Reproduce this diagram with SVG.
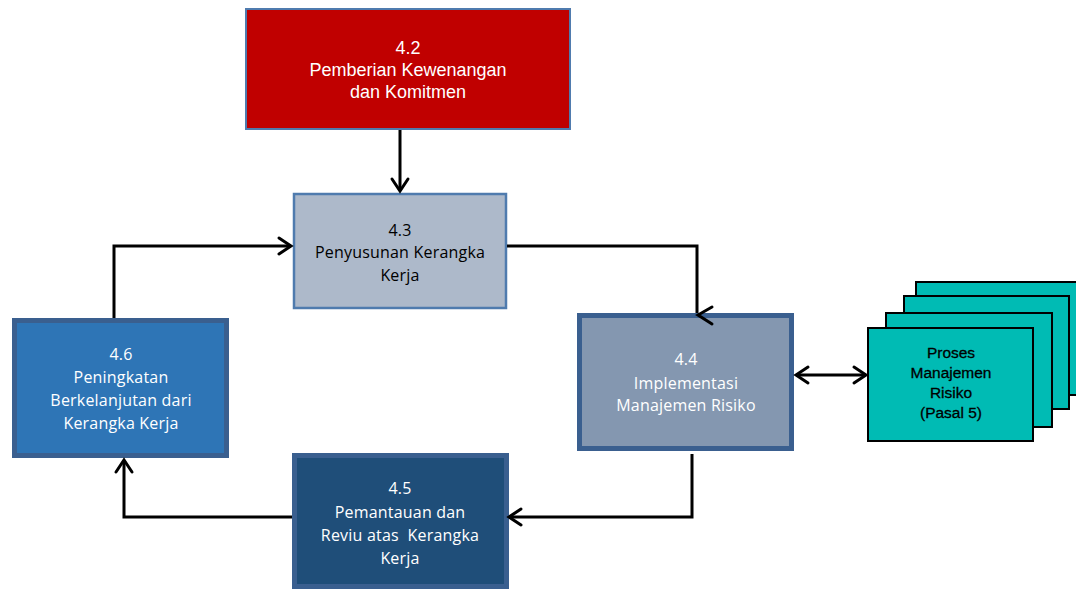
<svg xmlns="http://www.w3.org/2000/svg" width="1076" height="590" viewBox="0 0 1076 590">
<style>
.t{font-family:"Open Sans","Liberation Sans",sans-serif;font-size:16px;letter-spacing:0.2px;text-anchor:middle;white-space:pre}
.a{font-family:"Liberation Sans",Arial,sans-serif;text-anchor:middle}
.w{fill:#fff}
.k{fill:#000}
.ln{fill:none;stroke:#000;stroke-width:3}
.ah{fill:none;stroke:#000;stroke-width:3;stroke-linecap:round}
.teal{fill:#00BBB4;stroke:#000;stroke-width:2}
</style>
<rect width="1076" height="590" fill="#fff"/>
<g id="n42">
  <rect x="246" y="9" width="324" height="120" fill="#C00000" stroke="#4F7BAE" stroke-width="2"/>
  <text class="a w" font-size="18" x="408" y="54">4.2</text>
  <text class="a w" font-size="18" x="408" y="76">Pemberian Kewenangan</text>
  <text class="a w" font-size="18" x="408" y="98">dan Komitmen</text>
</g>
<g id="n43">
  <rect x="294" y="194" width="212" height="114" fill="#ADB9CA" stroke="#4F7BAE" stroke-width="2.5"/>
  <text class="t k" x="400" y="236">4.3</text>
  <text class="t k" x="400" y="258">Penyusunan Kerangka</text>
  <text class="t k" x="400" y="281">Kerja</text>
</g>
<g id="n44">
  <rect x="579.5" y="315.5" width="212" height="133" fill="#8497B0" stroke="#3A5F8F" stroke-width="5"/>
  <text class="t w" x="686" y="365">4.4</text>
  <text class="t w" x="686" y="389">Implementasi</text>
  <text class="t w" x="686" y="411">Manajemen Risiko</text>
</g>
<g id="n45">
  <rect x="294.5" y="455.5" width="212" height="131" fill="#1F4E79" stroke="#3A5F8F" stroke-width="5"/>
  <text class="t w" x="400" y="494">4.5</text>
  <text class="t w" x="400" y="518">Pemantauan dan</text>
  <text class="t w" x="400" y="541" xml:space="preserve">Reviu atas  Kerangka</text>
  <text class="t w" x="400" y="564">Kerja</text>
</g>
<g id="n46">
  <rect x="14.5" y="320.5" width="212" height="135" fill="#2E75B6" stroke="#3A5F8F" stroke-width="5"/>
  <text class="t w" x="121" y="360">4.6</text>
  <text class="t w" x="121" y="383">Peningkatan</text>
  <text class="t w" x="121" y="406">Berkelanjutan dari</text>
  <text class="t w" x="121" y="429">Kerangka Kerja</text>
</g>
<g id="proses">
  <rect class="teal" x="916" y="282" width="170" height="113"/>
  <rect class="teal" x="904" y="296" width="165" height="113"/>
  <rect class="teal" x="886" y="313" width="166" height="114"/>
  <rect class="teal" x="868" y="328" width="165" height="113"/>
  <text class="a k" font-size="15.5" x="951" y="358" stroke="#000" stroke-width="0.3">Proses</text>
  <text class="a k" font-size="15.5" x="951" y="378" stroke="#000" stroke-width="0.3">Manajemen</text>
  <text class="a k" font-size="15.5" x="951" y="398" stroke="#000" stroke-width="0.3">Risiko</text>
  <text class="a k" font-size="15.5" x="951" y="418" stroke="#000" stroke-width="0.3">(Pasal 5)</text>
</g>
<g id="connectors">
  <path class="ln" d="M400 130 V191"/>
  <polyline class="ah" points="392,179 400,191 408,179"/>
  <path class="ln" d="M507 246 H697 V313"/>
  <polyline class="ah" points="712,307 698,315 712,324"/>
  <path class="ln" d="M796 375 H866"/>
  <polyline class="ah" points="808,367 796,375 808,383"/>
  <polyline class="ah" points="854,367 866,375 854,383"/>
  <path class="ln" d="M692 454 V517 H509"/>
  <polyline class="ah" points="521,509 509,517 521,525"/>
  <path class="ln" d="M292 517 H124 V460"/>
  <polyline class="ah" points="116,472 124,460 132,472"/>
  <path class="ln" d="M114 318 V246 H291"/>
  <polyline class="ah" points="279,238 291,246 279,254"/>
</g>
</svg>
